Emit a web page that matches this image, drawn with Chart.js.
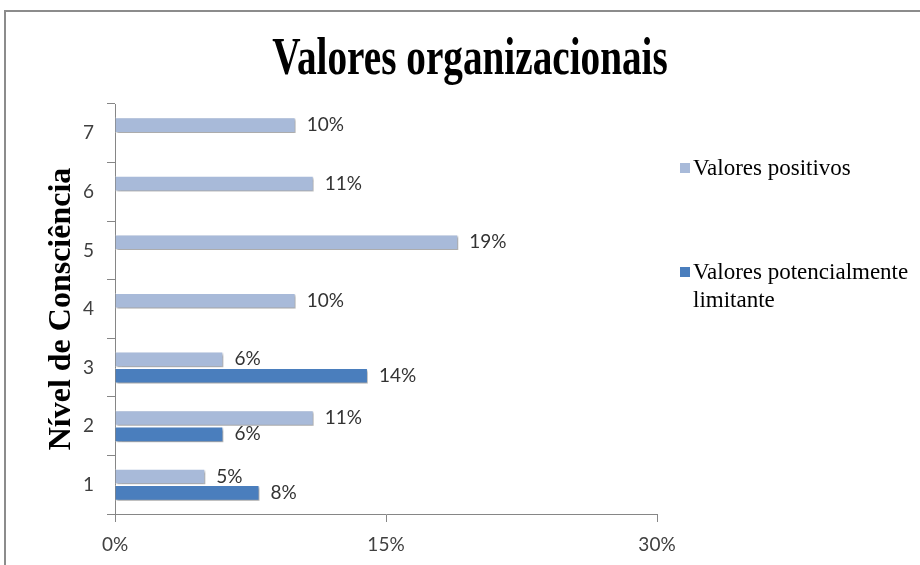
<!DOCTYPE html>
<html>
<head>
<meta charset="utf-8">
<script src="https://cdn.jsdelivr.net/npm/chart.js@4.4.1/dist/chart.umd.min.js"></script>
<style>
  html, body { margin: 0; padding: 0; background: #fff; }
  body { width: 920px; height: 565px; position: relative; overflow: hidden; }
  #frame { position: absolute; left: 4px; top: 10px; width: 1000px; height: 700px;
           border: 2px solid #8c8c8c; box-sizing: border-box; }
  #wrap { position: absolute; left: 0; top: 0; width: 920px; height: 565px; }
  #titulo { position: absolute; left: 170px; width: 600px; top: 30px; text-align: center;
            font: bold 53px "Liberation Serif", "Times New Roman", serif; line-height: 1;
            transform: scaleX(0.74); transform-origin: 50% 0; color: #000; margin: 0; }
  #legenda { position: absolute; left: 680px; top: 0; width: 240px;
             font: 23px "Liberation Serif", "Times New Roman", serif; color: #000; }
  .item { position: absolute; left: 0; width: 235px; line-height: 28px; padding-left: 13px; }
  .item span.box { position: absolute; left: 0; top: 9px; width: 10px; height: 10px; }
</style>
</head>
<body>
<div id="frame"></div>
<div id="wrap"><canvas id="grafico" width="920" height="565"></canvas></div>
<h1 id="titulo">Valores organizacionais</h1>
<div id="legenda"></div>
<script>
// Níveis de consciência (de baixo para cima)
const niveis = ['1', '2', '3', '4', '5', '6', '7'];
const series = ['Valores positivos', 'Valores potencialmente limitante'];
const positivos = [5, 11, 6, 10, 19, 11, 10];
const limitantes = [8, 6, 14, null, null, null, null];
const ticksX = [0, 15, 30];
const cores = ['#a8bad9', '#4a7ebd'];

// legenda em HTML (o texto quebra em duas linhas como no original)
const legenda = document.getElementById('legenda');
const topos = [154, 258];
series.forEach((nome, i) => {
    const d = document.createElement('div');
    d.className = 'item';
    d.style.top = topos[i] + 'px';
    d.innerHTML = '<span class="box" style="background:' + cores[i] + '"></span>' + nome;
    legenda.appendChild(d);
});

// sombra das barras + rótulos de valor
const barrasPlugin = {
    id: 'barras',
    beforeDatasetsDraw(chart) {
        const ctx = chart.ctx;
        ctx.save();
        ctx.shadowColor = 'rgba(0,0,0,0.35)';
        ctx.shadowBlur = 2;
        ctx.shadowOffsetX = 1.5;
        ctx.shadowOffsetY = 2;
    },
    afterDatasetsDraw(chart) {
        const ctx = chart.ctx;
        ctx.restore();
        ctx.save();
        ctx.font = '19px Lato, "Open Sans", sans-serif';
        ctx.fillStyle = '#333';
        ctx.textBaseline = 'middle';
        ctx.textAlign = 'left';
        chart.data.datasets.forEach((ds, i) => {
            chart.getDatasetMeta(i).data.forEach((el, j) => {
                const v = ds.data[j];
                if (v === null) return;
                ctx.fillText(v + '%', el.x + 11, el.y);
            });
        });
        ctx.restore();
    }
};

const ctx = document.getElementById('grafico').getContext('2d');
new Chart(ctx, {
    type: 'bar',
    data: {
        labels: niveis,
        datasets: [{
            label: series[0],
            data: positivos,
            backgroundColor: cores[0],
            borderColor: '#ffffff',
            borderWidth: 1,
            categoryPercentage: 0.56,
            barPercentage: 0.95
        }, {
            label: series[1],
            data: limitantes,
            backgroundColor: cores[1],
            borderColor: '#ffffff',
            borderWidth: 1,
            categoryPercentage: 0.56,
            barPercentage: 0.95
        }]
    },
    options: {
        indexAxis: 'y',
        responsive: false,
        animation: false,
        layout: { padding: { left: 43, right: 263, top: 104, bottom: 0 } },
        plugins: {
            legend: { display: false },
            title: { display: false },
            tooltip: { enabled: false }
        },
        scales: {
            y: {
                reverse: true,
                afterFit(scale) { scale.width = 72; },
                border: { color: '#868686', width: 1 },
                grid: { drawOnChartArea: false, tickLength: 8, color: '#868686', offset: true },
                ticks: { padding: 13, color: '#404040', font: { family: 'Lato', size: 19 } },
                title: {
                    display: true,
                    text: 'Nível de Consciência',
                    color: '#000',
                    font: { family: 'Liberation Serif', size: 32, weight: 'bold' },
                    padding: { top: 0, bottom: 0 }
                }
            },
            x: {
                min: 0,
                max: 30,
                afterFit(scale) { scale.height = 51; },
                afterBuildTicks(scale) { scale.ticks = ticksX.map(v => ({ value: v })); },
                border: { color: '#868686', width: 1 },
                grid: { drawOnChartArea: false, tickLength: 8, color: '#868686' },
                ticks: {
                    padding: 11,
                    color: '#404040',
                    font: { family: 'Lato', size: 19 },
                    callback: v => v + '%'
                }
            }
        }
    },
    plugins: [barrasPlugin]
});
</script>
</body>
</html>
